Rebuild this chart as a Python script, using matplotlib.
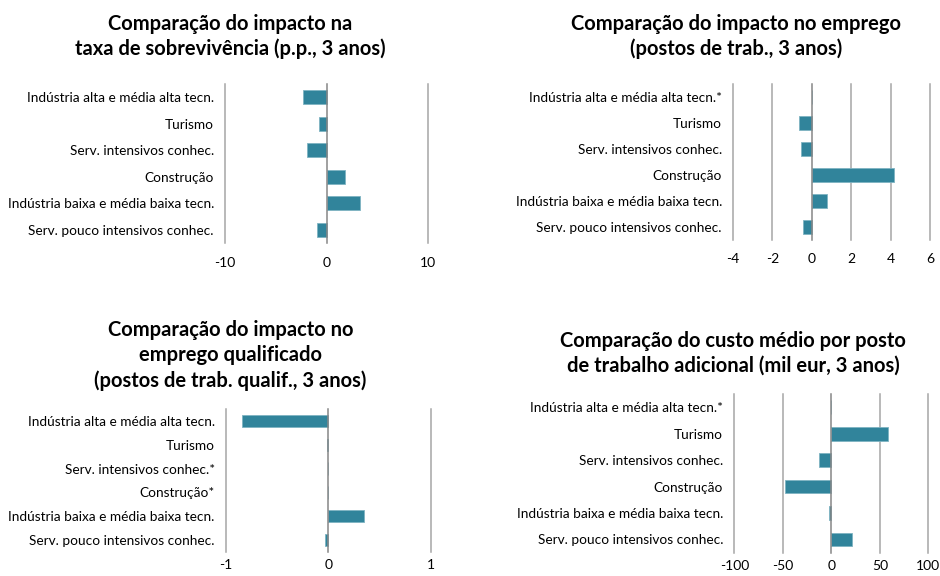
import matplotlib
matplotlib.use("Agg")
import matplotlib.pyplot as plt
import numpy as np

plt.rcParams['font.family'] = ['Lato', 'DejaVu Sans']

TEAL = '#31849B'
GRID = '#A6A6A6'
ZERO = '#868686'

# categorias (de cima para baixo)
cat_a = ['Indústria alta e média alta tecn.', 'Turismo', 'Serv. intensivos conhec.',
         'Construção', 'Indústria baixa e média baixa tecn.', 'Serv. pouco intensivos conhec.']
cat_b = ['Indústria alta e média alta tecn.*', 'Turismo', 'Serv. intensivos conhec.',
         'Construção', 'Indústria baixa e média baixa tecn.', 'Serv. pouco intensivos conhec.']
cat_c = ['Indústria alta e média alta tecn.', 'Turismo', 'Serv. intensivos conhec.*',
         'Construção*', 'Indústria baixa e média baixa tecn.', 'Serv. pouco intensivos conhec.']
cat_d = cat_b

# valores
sobrevivencia = [-2.35, -0.72, -1.9, 1.85, 3.3, -0.9]
emprego = [0, -0.66, -0.55, 4.18, 0.76, -0.47]
emprego_qualif = [-0.84, -0.01, 0, 0, 0.345, -0.035]
custo_medio = [0, 58.5, -12.4, -47.8, -2.0, 21.0]

ticks_a = [-10, 0, 10]
ticks_b = [-4, -2, 0, 2, 4, 6]
ticks_c = [-1, 0, 1]
ticks_d = [-100, -50, 0, 50, 100]

titulos = ['Comparação do impacto na\ntaxa de sobrevivência (p.p., 3 anos)',
           'Comparação do impacto no emprego\n(postos de trab., 3 anos)',
           'Comparação do impacto no\nemprego qualificado\n(postos de trab. qualif., 3 anos)',
           'Comparação do custo médio por posto\nde trabalho adicional (mil eur, 3 anos)']

fig = plt.figure(figsize=(9.4, 5.76), dpi=100)


def painel(rect, cats, vals, ticks, xpad):
    ax = fig.add_axes(rect)
    y = np.arange(len(cats))
    ax.barh(y, vals, height=0.52, color=TEAL, edgecolor='#7FB3C2', linewidth=0.6, zorder=3)
    ax.set_ylim(len(cats) - 0.5, -0.5)
    ax.set_xlim(ticks[0], ticks[-1])
    ax.set_yticks(y)
    ax.set_yticklabels(cats, fontsize=9.8)
    ax.set_xticks(ticks)
    ax.set_xticklabels([str(t) for t in ticks], fontsize=10)
    for t in ticks:
        ax.axvline(t, color=ZERO if t == 0 else GRID, lw=1.1,
                   zorder=4 if t == 0 else 1, clip_on=False)
    for s in ax.spines.values():
        s.set_visible(False)
    ax.tick_params(axis='both', length=0)
    ax.tick_params(axis='y', pad=8)
    ax.tick_params(axis='x', pad=xpad)
    return ax


painel([0.2394, 0.5781, 0.2160, 0.2760], cat_a, sobrevivencia, ticks_a, 10)
painel([0.7798, 0.5833, 0.2096, 0.2708], cat_b, emprego, ticks_b, 9)
painel([0.2404, 0.0417, 0.2181, 0.2483], cat_c, emprego_qualif, ticks_c, 5)
painel([0.7812, 0.0405, 0.2064, 0.2755], cat_d, custo_medio, ticks_d, 5)

pos_titulos = [(0.245, 0.937), (0.783, 0.937), (0.245, 0.383), (0.780, 0.387)]
for (x, yy), t in zip(pos_titulos, titulos):
    fig.text(x, yy, t, ha='center', va='center', fontsize=14.5, fontweight='bold',
             linespacing=1.3)

fig.savefig('out.png', dpi=100)
